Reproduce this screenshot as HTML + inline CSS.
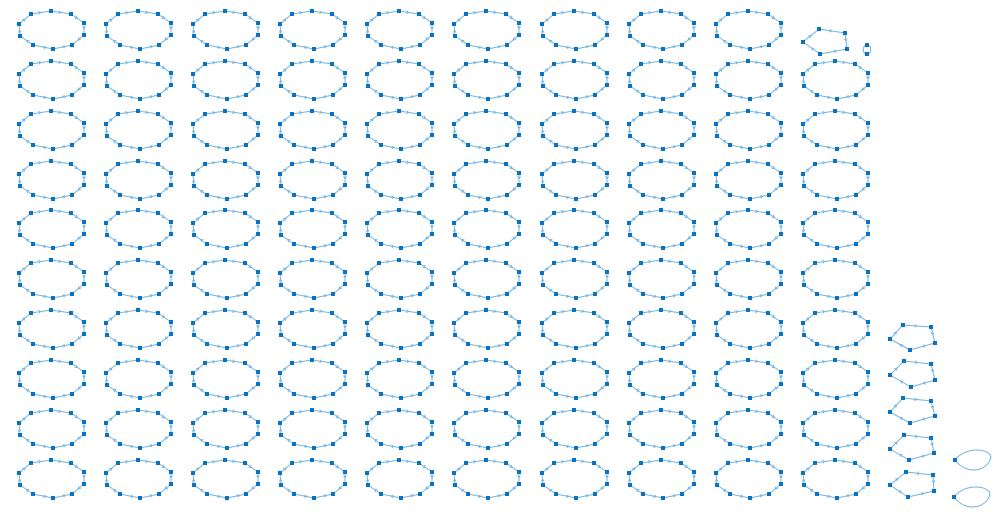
<!DOCTYPE html>
<html><head><meta charset="utf-8"><style>
html,body{margin:0;padding:0;background:#fff;}
svg{display:block;}
</style></head><body>
<svg id="chart" width="1007" height="516" viewBox="0 0 1007 516" xmlns="http://www.w3.org/2000/svg">
<g id="edges"></g>
<g id="nodes"></g>
</svg>
<script>
// grid of 10-node cycle components
const cycleCols = [52, 139, 226, 313, 400, 487, 575, 662, 749, 836];
const cycleRows = [30, 80, 130, 180, 229, 279, 329, 379, 429, 479];
const ellipseShape = [[-1,-19],[19,-16],[32,-7],[32,5],[20,15],[1,19],[-19,15],[-32,6],[-33,-6],[-21,-16]];
// pentagon components
const pentagons = [
  [[819,29],[845,33],[847,49],[820,54],[803,42]],
  [[903,325],[931,327],[935,343],[910,350],[890,339]],
  [[904,361],[931,364],[935,380],[911,387],[890,375]],
  [[903,398],[931,401],[935,416],[910,423],[890,412]],
  [[904,435],[931,438],[934,453],[909,460],[890,449]],
  [[906,472],[933,475],[934,491],[908,497],[890,485]]
];
// self-loop / 2-node components
const loops = [[955,460,35,8],[954,497,35,8]];
const smallPairs = [[[867,45],[867,54]]];

const NS = "http://www.w3.org/2000/svg";
const eg = document.getElementById('edges');
const ng = document.getElementById('nodes');
const EC = '#72b4e0', NC = '#0a72c2';

function edge(a, b) {
  const l = document.createElementNS(NS, 'line');
  l.setAttribute('x1', a[0]); l.setAttribute('y1', a[1]);
  l.setAttribute('x2', b[0]); l.setAttribute('y2', b[1]);
  l.setAttribute('stroke', EC); l.setAttribute('stroke-width', '1');
  
  
  eg.appendChild(l);
  const mx = (a[0]+b[0])/2, my = (a[1]+b[1])/2;
  const dx = b[0]-a[0], dy = b[1]-a[1], d = Math.hypot(dx,dy)||1;
  const ux = dx/d, uy = dy/d;
  const p = document.createElementNS(NS, 'path');
  p.setAttribute('d', `M${mx-ux*2.5-uy*1.5},${my-uy*2.5+ux*1.5} L${mx},${my} L${mx-ux*2.5+uy*1.5},${my-uy*2.5-ux*1.5}`);
  p.setAttribute('stroke', EC); p.setAttribute('fill', 'none'); p.setAttribute('stroke-width', '0.8');
  
  
  eg.appendChild(p);
}
function node(p) {
  const r = document.createElementNS(NS, 'rect');
  r.setAttribute('x', p[0]-2); r.setAttribute('y', p[1]-2);
  r.setAttribute('width', 4); r.setAttribute('height', 4);
  r.setAttribute('fill', NC);
  
  
  ng.appendChild(r);
}
function cycle(pts) {
  for (let i = 0; i < pts.length; i++) edge(pts[i], pts[(i+1)%pts.length]);
  pts.forEach(node);
}
cycleRows.forEach((cy, ri) => cycleCols.forEach((cx, ci) => {
  if (ri === 0 && ci === cycleCols.length - 1) return; // pentagon occupies this slot
  cycle(ellipseShape.map(o => [cx+o[0], cy+o[1]]));
}));
pentagons.forEach(cycle);
smallPairs.forEach(pr => {
  const p = document.createElementNS(NS, 'path');
  p.setAttribute('d', `M${pr[0][0]},${pr[0][1]} C${pr[0][0]-5},${pr[0][1]} ${pr[1][0]-5},${pr[1][1]} ${pr[1][0]},${pr[1][1]} C${pr[1][0]+5},${pr[1][1]} ${pr[0][0]+5},${pr[0][1]} ${pr[0][0]},${pr[0][1]}`);
  p.setAttribute('stroke', EC); p.setAttribute('fill', 'none'); p.setAttribute('stroke-width', '1');
  
  
  eg.appendChild(p);
  pr.forEach(node);
});
loops.forEach(l => {
  const [x, y, w, h] = l;
  const p = document.createElementNS(NS, 'path');
  p.setAttribute('d', `M${x},${y} C${x+12},${y-2*h} ${x+w+6},${y-h*1.3} ${x+w},${y} C${x+w-4},${y+h*1.3} ${x+12},${y+2*h} ${x},${y}`);
  p.setAttribute('stroke', EC); p.setAttribute('fill', 'none'); p.setAttribute('stroke-width', '1');
  
  
  eg.appendChild(p);
  node([x, y]);
});
</script>
</body></html>
